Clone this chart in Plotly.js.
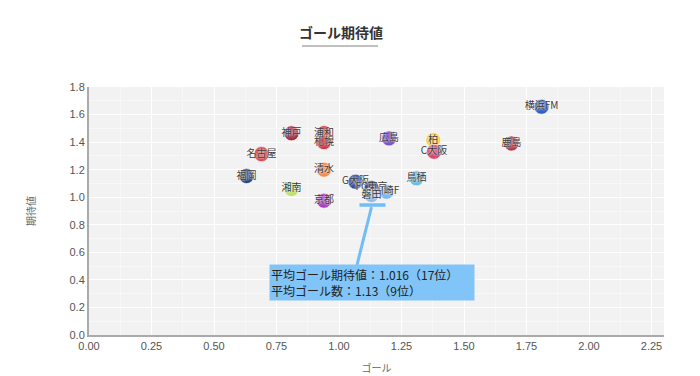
<!DOCTYPE html>
<html>
<head>
<meta charset="utf-8">
<script src="https://cdn.plot.ly/plotly-3.0.1.min.js"></script>
<style>html,body{margin:0;padding:0;background:#fff;}#chart{width:700px;height:376px;}</style>
</head>
<body>
<div id="chart"></div>
<script>
const teams = ["横浜FM","鹿島","柏","C大阪","広島","浦和","札幌","神戸","名古屋","福岡","清水","湘南","京都","G大阪","鳥栖","FC東京","川崎F","磐田"];
const goals = [1.81,1.69,1.377,1.38,1.20,0.94,0.94,0.81,0.69,0.63,0.94,0.81,0.94,1.066,1.31,1.13,1.19,1.13];
const xg    = [1.657,1.39,1.415,1.33,1.427,1.466,1.40,1.464,1.313,1.154,1.20,1.06,0.975,1.112,1.137,1.067,1.04,1.016];
const colors = ["#2f5fbf","#b2394a","#f0d24a","#d8466f","#7a4fc4","#d8353d","#c9343f","#a52b3b","#d24244","#213c7c","#f08d4d","#bfe06e","#a63dba","#2d4fa3","#6bbbe2","#1f2f7c","#7cb9ea","#8cbbe9"];

const highlightTeam = "磐田";
const highlightGoals = 1.13;
const highlightXG = 1.016;
const highlightXGRank = 17;
const highlightGoalsRank = 9;

const xTicks = [0,0.25,0.5,0.75,1,1.25,1.5,1.75,2,2.25];
const yTicks = [0,0.2,0.4,0.6,0.8,1.0,1.2,1.4,1.6,1.8];

const FONT = "Liberation Sans, Noto Sans CJK JP, sans-serif";
const accent = "#72bdf6";

const trace = {
  type: "scatter",
  mode: "markers+text",
  x: goals,
  y: xg,
  text: teams,
  textposition: "middle center",
  textfont: {family: "Noto Sans CJK JP, sans-serif", size: 10, color: "#3a3a3a",
             shadow: "0 0 2px rgba(255,255,255,0.95), 0 0 3px rgba(255,255,255,0.8)"},
  marker: {size: 15, color: colors, line: {color: "rgba(255,255,255,0.6)", width: 1}},
  hoverinfo: "skip",
  cliponaxis: false
};

const layout = {
  width: 700, height: 376,
  margin: {l: 89, r: 36, t: 87, b: 41},
  paper_bgcolor: "#ffffff",
  plot_bgcolor: "#f2f2f2",
  showlegend: false,
  font: {family: FONT, size: 11, color: "#555"},
  title: {
    text: "<b>ゴール期待値</b>",
    font: {family: "Noto Sans CJK JP, sans-serif", size: 14, color: "#333"},
    xref: "container", x: 341/700, xanchor: "center",
    yref: "container", y: 1 - 33/376, yanchor: "middle"
  },
  xaxis: {
    range: [0, 2.3],
    tickvals: xTicks,
    ticktext: xTicks.map(v => v.toFixed(2)),
    showgrid: true, gridcolor: "#ffffff", gridwidth: 1,
    minor: {dtick: 0.125, showgrid: true, gridcolor: "#f7f7f7", gridwidth: 1},
    zeroline: false,
    showline: true, linecolor: "#aaaaaa", linewidth: 2,
    ticks: "", ticklen: 0,
    tickfont: {family: FONT, size: 11, color: "#555"},
    title: {text: "ゴール", font: {family: "Noto Sans CJK JP, sans-serif", size: 10, color: "#666"}, standoff: 14},
    fixedrange: true
  },
  yaxis: {
    range: [0, 1.8],
    tickvals: yTicks,
    ticktext: yTicks.map(v => v.toFixed(1)),
    showgrid: true, gridcolor: "#ffffff", gridwidth: 1,
    minor: {dtick: 0.1, showgrid: true, gridcolor: "#f8f8f8", gridwidth: 1},
    zeroline: false,
    showline: true, linecolor: "#aaaaaa", linewidth: 2,
    ticks: "", ticklen: 0,
    tickfont: {family: FONT, size: 11, color: "#555"},
    title: {text: "期待値", font: {family: "Noto Sans CJK JP, sans-serif", size: 10, color: "#666"}, standoff: 32},
    fixedrange: true
  },
  shapes: [
    {type: "line", xref: "paper", yref: "paper", x0: (302-89)/575, x1: (378-89)/575,
     y0: 1 + (87-46)/248, y1: 1 + (87-46)/248, line: {color: "#aaaaaa", width: 1.5}},
    {type: "line", xref: "x", yref: "y", xsizemode: "pixel", ysizemode: "pixel",
     xanchor: highlightGoals, yanchor: highlightXG,
     x0: -12, x1: 14, y0: -10, y1: -10, line: {color: accent, width: 3.5}},
    {type: "line", xref: "x", yref: "y", xsizemode: "pixel", ysizemode: "pixel",
     xanchor: highlightGoals, yanchor: highlightXG,
     x0: 0, x1: -14.5, y0: -12, y1: -70, line: {color: accent, width: 3}}
  ],
  annotations: [{
    xref: "x", yref: "y", x: highlightGoals, y: highlightXG,
    xanchor: "center", yanchor: "middle",
    xshift: 0.5, yshift: -87.5,
    showarrow: false,
    text: "平均ゴール期待値：" + highlightXG.toFixed(3) + "（" + highlightXGRank + "位）<br>平均ゴール数：" + highlightGoals.toFixed(2) + "（" + highlightGoalsRank + "位）",
    align: "left",
    width: 202, height: 33,
    borderpad: 1,
    bgcolor: "#80c4f8",
    font: {family: "Noto Sans CJK JP, sans-serif", size: 12, color: "#222"}
  }]
};

Plotly.newPlot("chart", [trace], layout, {displayModeBar: false, staticPlot: true});
</script>
</body>
</html>
